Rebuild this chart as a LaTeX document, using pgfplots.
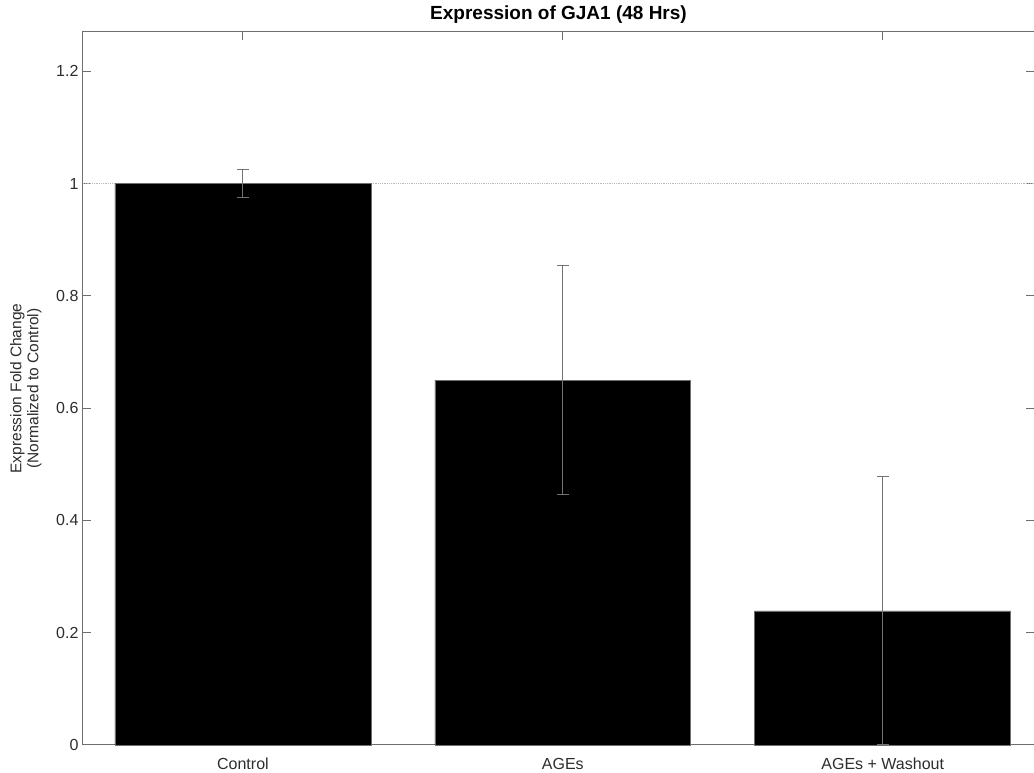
\documentclass[border=0pt]{standalone}
\usepackage{pgfplots}
\pgfplotsset{compat=1.18}
\usepackage{fontspec}
\setmainfont{Liberation Sans}
\definecolor{axcol}{RGB}{110,110,110}
\definecolor{txtcol}{RGB}{45,45,45}
\definecolor{errcol}{RGB}{115,115,115}
\definecolor{dotcol}{RGB}{185,185,185}
\begin{document}
\begin{tikzpicture}
\path[use as bounding box] (0,0) rectangle (1034pt,773pt);
\begin{axis}[
  at={(83pt,28pt)}, anchor=south west,
  scale only axis, width=951pt, height=713pt,
  xmin=-0.5, xmax=2.473, ymin=0, ymax=1.27,
  xtick={0,1,2}, xticklabels={Control,AGEs,AGEs + Washout},
  ytick={0,0.2,0.4,0.6,0.8,1,1.2},
  yticklabels={0,0.2,0.4,0.6,0.8,1,1.2},
  tick align=inside, major tick length=8pt,
  xtick pos=both, ytick pos=both,
  axis line style={axcol, line width=1pt},
  every tick/.style={axcol, line width=1pt},
  ticklabel style={font=\fontsize{16}{19}\selectfont, text=txtcol},
  xticklabel style={yshift=-9pt, text height=11.6pt, text depth=3.4pt},
  yticklabel style={xshift=-1pt},
  title={Expression of GJA1 (48 Hrs)},
  title style={font=\fontsize{19}{22}\selectfont\bfseries, text=black, yshift=-1pt},
  ylabel={Expression Fold Change\\(Normalized to Control)},
  every axis y label/.style={at={(axis description cs:-0.06,0.5)}, rotate=90, anchor=center, align=center, font=\fontsize{15.5}{17}\selectfont, text=txtcol},
  clip=false,
]
\addplot[dotcol, densely dotted, line width=0.8pt, forget plot] coordinates {(-0.5,1) (2.473,1)};
\addplot[ybar, bar width=0.8, fill=black, draw=axcol, line width=0.6pt,
  error bars/.cd, y dir=both, y explicit,
  error bar style={errcol, line width=1pt},
  error mark options={rotate=90, mark size=6pt, errcol, line width=1pt}]
  coordinates {
  (0,1.000) +- (0,0.025)
  (1,0.650) +- (0,0.204)
  (2,0.239) +- (0,0.239)
  };
\end{axis}
\end{tikzpicture}
\end{document}
